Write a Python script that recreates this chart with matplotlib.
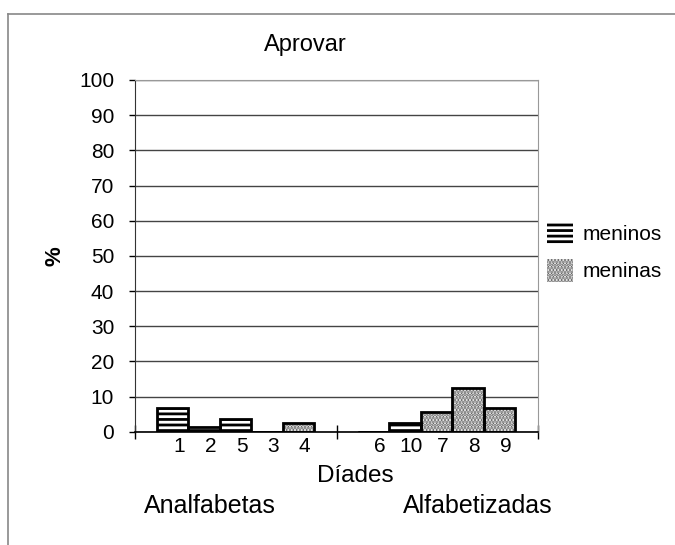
import numpy as np
import matplotlib
matplotlib.use('Agg')
import matplotlib.pyplot as plt
from matplotlib.patches import Patch
from matplotlib.lines import Line2D

plt.rcParams['font.family'] = ['Liberation Sans', 'DejaVu Sans']
plt.rcParams['hatch.linewidth'] = 2.0

# Díades, agrupadas por escolaridade
labels_analf = ['1', '2', '5', '3', '4']
labels_alfab = ['6', '10', '7', '8', '9']
meninos_analf = [6.7, 1.3, 3.5, 0, 0]
meninas_analf = [0, 0, 0, 0, 2.6]
meninos_alfab = [0, 2.4, 0, 0, 0]
meninas_alfab = [0, 0, 5.5, 12.3, 6.7]
groups = ['Analfabetas', 'Alfabetizadas']
yticks = np.arange(0, 101, 10)

fig = plt.figure(figsize=(6.75, 5.45), dpi=100)
ax = fig.add_axes([135/675, 1 - 431.7/545, (538 - 135)/675, (431.7 - 80)/545])

pos_analf = np.arange(len(labels_analf))
pos_alfab = np.arange(len(labels_alfab)) + 6.4
pos = np.concatenate([pos_analf, pos_alfab])
meninos = np.concatenate([meninos_analf, meninos_alfab])
meninas = np.concatenate([meninas_analf, meninas_alfab])

# meninos: listras horizontais pretas
ax.bar(pos, meninos, width=1.0, color='white', edgecolor='black', hatch='---', linewidth=0, zorder=3)
ax.bar(pos, meninos, width=1.0, fill=False, edgecolor='black', linewidth=2, zorder=4)
# meninas: pontilhado cinza
ax.bar(pos, meninas, width=1.0, color='white', edgecolor='#666666', hatch='.....', linewidth=0, zorder=3)
ax.bar(pos, meninas, width=1.0, fill=False, edgecolor='black', linewidth=2, zorder=4)

ax.set_xlim(-1.2, 11.63)
ax.set_ylim(0, 100)
ax.set_yticks(yticks)
ax.tick_params(axis='y', labelsize=15, length=4, width=1, pad=11, colors='black')
ax.yaxis.grid(True, color='#444444', linewidth=1)
ax.set_axisbelow(True)

ax.set_xticks(pos + 0.2)
ax.set_xticklabels(labels_analf + labels_alfab)
ax.tick_params(axis='x', labelsize=15, length=0, pad=4)
ax.set_xticks([-1.2, 5.23, 11.63], minor=True)
ax.tick_params(axis='x', which='minor', length=10, direction='inout', width=1)

for side in ['top', 'right']:
    ax.spines[side].set_color('#999999')
ax.spines['left'].set_color('#333333')
ax.spines['bottom'].set_color('black')
ax.spines['bottom'].set_linewidth(1.2)

handles = [Patch(facecolor='white', edgecolor='black', hatch='---', linewidth=0),
           Patch(facecolor='white', edgecolor='#666666', hatch='.....', linewidth=0)]
fig.legend(handles, ['meninos', 'meninas'], loc='center left',
           bbox_to_anchor=(547/675, 1 - 252/545), frameon=False, fontsize=15,
           handlelength=1.25, handleheight=1.35, handletextpad=0.45,
           labelspacing=0.65, borderpad=0, borderaxespad=0)

fig.text(305/675, 1 - 45/545, 'Aprovar', ha='center', va='center', fontsize=17)
fig.text(55/675, 1 - 256/545, '%', ha='center', va='center', rotation=90, fontsize=16, fontweight='bold')
fig.text(355/675, 1 - 476/545, 'Díades', ha='center', va='center', fontsize=17.5)
fig.text(209.5/675, 1 - 506/545, groups[0], ha='center', va='center', fontsize=18)
fig.text(477.5/675, 1 - 506/545, groups[1], ha='center', va='center', fontsize=18)

# moldura da área do gráfico
fig.add_artist(Line2D([8/675, 8/675], [0, 1 - 14/545], color='#888888', linewidth=1.2))
fig.add_artist(Line2D([8/675, 1], [1 - 14/545, 1 - 14/545], color='#888888', linewidth=1.2))

fig.savefig('out.png', dpi=100)
